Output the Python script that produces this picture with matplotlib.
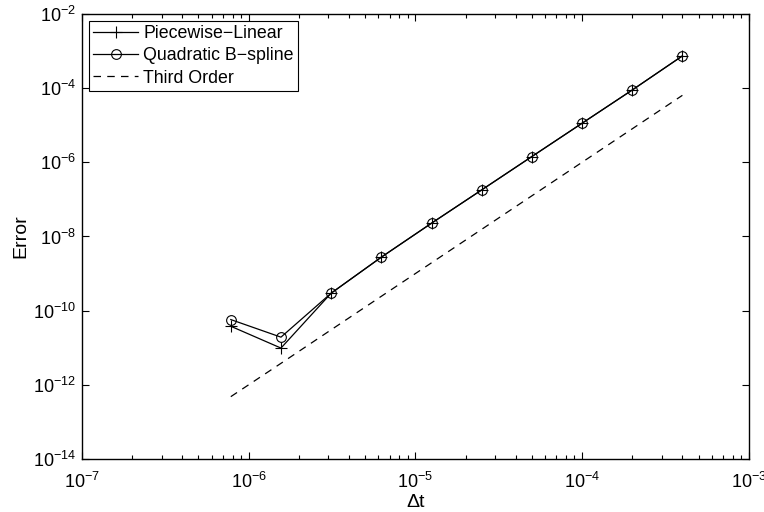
import numpy as np
import matplotlib
matplotlib.use('Agg')
import matplotlib.pyplot as plt
from matplotlib.ticker import LogLocator, NullLocator, NullFormatter

plt.rcParams['font.family'] = ['Liberation Sans', 'DejaVu Sans']
plt.rcParams['mathtext.fontset'] = 'custom'
plt.rcParams['mathtext.rm'] = 'Liberation Sans'
plt.rcParams['mathtext.it'] = 'Liberation Sans:italic'
plt.rcParams['mathtext.default'] = 'regular'

# time steps
dt = [7.8125e-7, 1.5625e-6, 3.125e-6, 6.25e-6, 1.25e-5, 2.5e-5, 5e-5, 1e-4, 2e-4, 4e-4]

# errors
err_linear = [3.8e-11, 9.8e-12, 2.96e-10, 2.77e-9, 2.28e-8, 1.8e-7, 1.43e-6, 1.13e-5, 8.9e-5, 7.4e-4]
err_quadratic = [5.75e-11, 1.93e-11, 2.96e-10, 2.77e-9, 2.28e-8, 1.8e-7, 1.43e-6, 1.13e-5, 8.9e-5, 7.4e-4]
third_order = [4.8e-13, 3.8e-12, 3.05e-11, 2.44e-10, 1.95e-9, 1.56e-8, 1.25e-7, 1.0e-6, 8.0e-6, 6.4e-5]

labels = ['Piecewise\u2212Linear', 'Quadratic B\u2212spline', 'Third Order']

fig = plt.figure(figsize=(7.64, 5.12), dpi=100)
ax = fig.add_axes([0.1073, 0.1035, 0.8727, 0.8692])

ax.loglog(dt, err_linear, color='k', linewidth=0.9, marker='+', markersize=8,
          markeredgewidth=0.8, label=labels[0])
ax.loglog(dt, err_quadratic, color='k', linewidth=0.9, marker='o', markersize=7,
          markerfacecolor='none', markeredgewidth=0.8, label=labels[1])
ax.loglog(dt, third_order, color='k', linewidth=0.9, linestyle=(0, (6, 5)),
          label=labels[2])

ax.set_xlim(1e-7, 1e-3)
ax.set_ylim(1e-14, 1e-2)
ax.set_xticks([1e-7, 1e-6, 1e-5, 1e-4, 1e-3])
ax.xaxis.set_minor_locator(LogLocator(base=10, subs=np.arange(2, 10), numticks=20))
ax.xaxis.set_minor_formatter(NullFormatter())
ax.set_yticks([1e-14, 1e-12, 1e-10, 1e-8, 1e-6, 1e-4, 1e-2])
ax.yaxis.set_minor_locator(NullLocator())

ax.tick_params(which='both', direction='in', top=True, right=True, labelsize=13, width=0.8)
ax.tick_params(which='major', length=5)
ax.tick_params(which='minor', length=3)
ax.tick_params(axis='x', pad=9)
ax.tick_params(axis='y', pad=4)
for s in ax.spines.values():
    s.set_linewidth(1.0)

ax.set_xlabel('\u0394t', fontsize=14, labelpad=2)
ax.set_ylabel('Error', fontsize=14, labelpad=3)

leg = ax.legend(loc='upper left', fontsize=12.8, fancybox=False, edgecolor='k',
                framealpha=1, borderpad=0.22, labelspacing=0.3, handlelength=2.55,
                handletextpad=0.28, borderaxespad=0.4)
leg.get_frame().set_linewidth(0.8)

plt.savefig('out.png', dpi=100)
plt.close()
